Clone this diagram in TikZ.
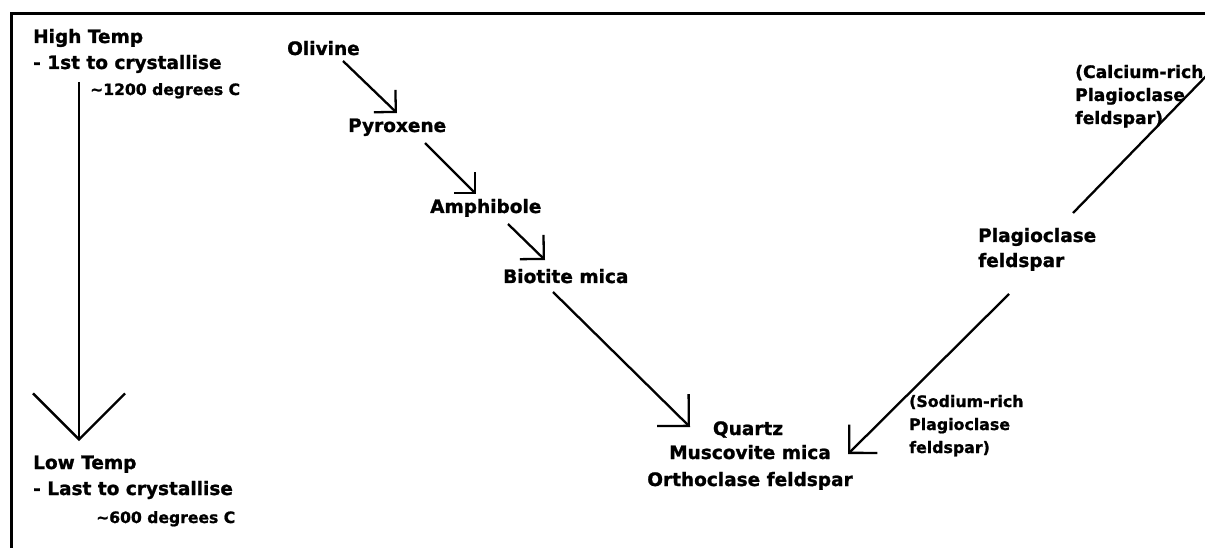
\documentclass[tikz,border=0pt]{standalone}
\usepackage{fontspec}
\setmainfont{DejaVu Sans}[BoldFeatures={FakeBold=1.2}]
\usetikzlibrary{arrows.meta}
\begin{document}
\begin{tikzpicture}[x=1pt,y=-1pt,
  big/.style={font=\fontsize{18.5}{22}\selectfont\bfseries, inner sep=0pt, anchor=base west},
  bigc/.style={font=\fontsize{18.5}{22}\selectfont\bfseries, inner sep=0pt, anchor=base},
  small/.style={font=\fontsize{15.6}{19}\selectfont\bfseries, inner sep=0pt, anchor=base west},
  calc/.style={font=\fontsize{17.2}{20}\selectfont\bfseries, inner sep=0pt, anchor=base west},
  sod/.style={font=\fontsize{15.8}{19}\selectfont\bfseries, inner sep=0pt, anchor=base west},
  flow/.style 2 args={line width=2.3pt, -{Straight Barb[length=#1,width=#2]}},
  plain/.style={line width=2.3pt},
  frame/.style={line width=3.5pt}
]
\useasboundingbox (0,0) rectangle (1205,548);
\fill[white] (0,0) rectangle (1205,548);
% frame (left and top edges)
\draw[frame] (11.5,560) -- (11.5,13.5) -- (1220,13.5);

% temperature scale
\node[big] (hightemp) at (33,43) {High Temp};
\node[big] (first) at (33,69) {- 1st to crystallise};
\node[small] (t1200) at (90,95) {\textasciitilde1200 degrees C};
\node[big] (lowtemp) at (33,469) {Low Temp};
\node[big] (last) at (33,495) {- Last to crystallise};
\node[small] (t600) at (96,523) {\textasciitilde600 degrees C};
\coordinate (tstart) at (79,82);
\coordinate (tend) at (79,441);
\draw[flow={46pt}{92pt}] (tstart) -- (tend);

% discontinuous series
\node[big] (olivine) at (287,55) {Olivine};
\node[big] (pyroxene) at (348,132) {Pyroxene};
\node[big] (amphibole) at (430,213) {Amphibole};
\node[big] (biotite) at (503,283) {Biotite mica};

\node[bigc] (quartz) at (748,435) {Quartz};
\node[bigc] (muscovite) at (750,459) {Muscovite mica};
\node[bigc] (orthoclase) at (750,486) {Orthoclase feldspar};

\coordinate (a1s) at (343,61);  \coordinate (a1e) at (397,113);
\coordinate (a2s) at (425,143); \coordinate (a2e) at (476,194);
\coordinate (a3s) at (508,224); \coordinate (a3e) at (545,260);
\coordinate (a4s) at (553,292); \coordinate (a4e) at (690,427);
\draw[flow={15.5pt}{31pt}] (a1s) -- (a1e);
\draw[flow={14.5pt}{29pt}] (a2s) -- (a2e);
\draw[flow={17pt}{34pt}] (a3s) -- (a3e);
\draw[flow={22.5pt}{45pt}] (a4s) -- (a4e);

% continuous series
\node[big] (plag) at (978,242) {Plagioclase};
\node[big] (plag2) at (978,267) {feldspar};
\node[calc] (ca1) at (1075,78) {(Calcium-rich};
\node[calc] (ca2) at (1075,101) {Plagioclase};
\node[calc] (ca3) at (1075,124) {feldspar)};
\node[sod] (na1) at (909,407) {(Sodium-rich};
\node[sod] (na2) at (909,430) {Plagioclase};
\node[sod] (na3) at (909,453) {feldspar)};

\coordinate (cas) at (1215,67); \coordinate (cae) at (1073,213);
\draw[plain] (cas) -- (cae);
\coordinate (a5s) at (1009,294); \coordinate (a5e) at (848,454);
\draw[flow={20pt}{40pt}] (a5s) -- (a5e);
\end{tikzpicture}
\end{document}
